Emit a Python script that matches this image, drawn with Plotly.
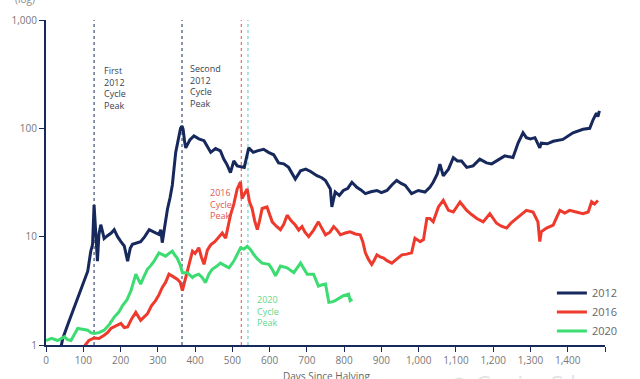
import plotly.graph_objects as go

# ---- data (days since halving, price multiple, log scale) ----
days_2012 = [40,45,60,75,90,103,112,120,125,129,133,138,142,147,152,156,165,175,183,192,201,210,219,226,232,243,254,265,277,290,303,308,312,318,326,333,339,348,355,361,365,368,372,375,386,397,410,424,433,442,455,468,477,486,495,504,513,522,532,544,556,567,584,597,611,624,638,651,669,683,697,710,727,740,750,763,767,776,787,798,810,821,834,845,857,872,888,900,915,928,941,953,964,981,999,1017,1030,1039,1050,1057,1066,1080,1093,1104,1115,1129,1146,1164,1182,1196,1209,1231,1253,1267,1280,1289,1300,1312,1325,1329,1345,1361,1387,1414,1441,1459,1468,1477,1481,1485]
vals_2012 = [0.95,1.15,1.6,2.2,2.9,3.9,4.8,7.3,8.5,19.7,11,5.95,10.5,12.9,11,9.6,10.2,10.8,11.6,10,9,8.2,5.95,7.8,8.5,8.8,9,10,11.6,11,10.5,11.6,8.8,12,18,23,30,60,80,100,105,98,75,66,78,85,80,77,68,60,65,62,52,46,39,50,45,44,43.6,66,60,62,64,60,57,48,47,43.6,34,40.5,42,40,36.5,35,33,27.6,18.8,25.8,24,26.7,28,31.8,28.6,27,25,26,26.7,25.5,26.7,30,33,31,29.7,25,26.7,25.8,28.6,31.8,38,46.8,36.5,42,53.7,50,50,43.6,45,52,48,47,50,55.7,53.7,73.5,91,82,80,82,66,73,72,76,79,91,98,100,120,138,128,145]

days_2016 = [95,103,115,129,142,156,165,174,188,201,210,219,230,241,254,263,272,283,294,303,312,321,330,340,352,360,366,375,383,393,400,410,417,424,433,442,453,464,473,482,488,495,504,513,522,526,533,540,546,553,560,567,573,580,593,600,607,618,629,638,647,658,669,678,687,695,705,718,731,740,750,762,772,781,790,803,816,830,843,850,857,865,874,880,888,897,906,915,928,941,955,968,981,990,1004,1013,1022,1030,1039,1053,1066,1080,1093,1111,1129,1142,1156,1173,1191,1209,1222,1236,1249,1262,1275,1289,1307,1320,1325,1329,1343,1361,1370,1379,1392,1405,1420,1441,1455,1464,1472,1481]
vals_2016 = [0.9,0.98,1.1,1.16,1.15,1.23,1.3,1.42,1.5,1.58,1.45,1.47,1.75,2.0,1.69,1.8,1.94,2.3,2.57,2.9,3.4,3.8,4.5,4.3,4.05,3.8,3.17,4.2,5.5,7.35,7.0,7.9,6.5,5.55,7.5,8.4,9,10,10.8,9.7,12,15.8,20,27.6,32,22.5,25,27.6,21,18.2,14,11.6,14,18.2,18.8,16,13.7,12.5,11.6,13,15.8,14,12.8,11.5,12.4,11,10,11.5,13.7,12,10.4,11,12.4,11.5,10.4,10.8,11.1,10.6,10.4,9,7.1,6.2,5.55,6.0,6.8,6.5,6.35,6.0,5.7,6.2,6.8,6.9,7.1,9.7,9,9.4,14.7,14.7,13.7,18.8,21.6,17.5,16.9,20.9,17.5,16,14.7,13.7,16.3,13.3,12.5,12,13.5,14.7,16,17.5,16.9,13.7,9,11.1,12,12.8,15,17.5,16.5,17.5,17,16.3,16.9,21,20,21.6]

days_2020 = [0,15,31,49,58,67,76,85,98,112,120,129,142,156,170,183,195,205,217,228,241,254,263,272,281,290,303,312,321,330,339,345,352,360,366,379,393,401,410,419,428,437,446,457,468,480,491,504,513,522,531,540,549,558,568,580,598,607,616,629,647,665,683,692,701,718,731,741,750,759,768,776,787,798,812,816,822]
vals_2020 = [1.1,1.15,1.1,1.19,1.12,1.1,1.25,1.42,1.4,1.37,1.3,1.28,1.3,1.37,1.55,1.81,2.0,2.3,2.6,3.17,4.5,3.65,4.3,5.0,5.4,5.95,7.07,6.8,6.6,7.0,7.35,6.8,6.35,5.5,4.65,4.65,4.2,4.4,4.5,4.2,3.77,4.5,5.0,5.3,5.7,5.4,5.15,5.95,6.8,7.9,7.7,8.15,7.6,6.8,6.2,5.7,5.55,5.0,4.35,5.35,5.15,4.65,5.7,5.1,4.5,4.5,3.5,3.6,3.65,2.48,2.5,2.57,2.7,2.85,2.95,2.57,2.65]

series_names = ["2012", "2016", "2020"]
series_colors = ["#17295c", "#ee3a2c", "#3ddc73"]

peak_days = [129, 365, 524, 542]
peak_colors = ["#17295c", "#17295c", "#e0504a", "#5cc9c4"]
peak_labels = ["First<br>2012<br>Cycle<br>Peak", "Second<br>2012<br>Cycle<br>Peak",
               "2016<br>Cycle<br>Peak", "2020<br>Cycle<br>Peak"]
label_days = [150, 380, 436, 560]
label_logy = [2.61, 2.63, 1.49, 0.5]
label_colors = ["#3a3f4f", "#3a3f4f", "#e0584f", "#5fd88c"]

x_tickvals = list(range(0, 1600, 100))
x_ticktext = [f"{v:,}" for v in x_tickvals[:-1]] + [""]
y_tickvals = [1, 10, 100, 1000]
y_ticktext = ["1", "10", "100", "1,000"]

FONT = "Open Sans, Noto Sans, sans-serif"

fig = go.Figure()
for d, v, n, c in zip([days_2012, days_2016, days_2020],
                      [vals_2012, vals_2016, vals_2020],
                      series_names, series_colors):
    fig.add_trace(go.Scatter(x=d, y=v, name=n, mode="lines",
                             line=dict(color=c, width=3)))

for d, c in zip(peak_days, peak_colors):
    fig.add_shape(type="line", xref="x", yref="paper", x0=d, x1=d, y0=0, y1=1,
                  line=dict(color=c, width=1, dash="dot"), layer="below")

for t, dx, ly, c in zip(peak_labels, label_days, label_logy, label_colors):
    fig.add_annotation(x=dx, y=ly, xref="x", yref="y", text=t, showarrow=False,
                       xanchor="left", yanchor="top", align="left",
                       font=dict(family=FONT, size=9, color=c))

fig.add_annotation(x=-0.059, y=1.092, xref="paper", yref="paper", text="(log)",
                   showarrow=False, xanchor="left", yanchor="top",
                   font=dict(family=FONT, size=10, color="#888"))
fig.add_annotation(x=0.502, y=-0.068, xref="paper", yref="paper",
                   text="Days Since Halving", showarrow=False,
                   xanchor="center", yanchor="top",
                   font=dict(family=FONT, size=10, color="#666"))
fig.add_annotation(x=0.718, y=-0.062, xref="paper", yref="paper",
                   text="⊘ C o i n S h a r e s", showarrow=False,
                   xanchor="left", yanchor="top",
                   font=dict(family=FONT, size=24, color="#e4e4e4"))

fig.update_layout(
    width=640, height=379,
    margin=dict(l=45, r=35, t=16, b=34),
    paper_bgcolor="white", plot_bgcolor="white",
    font=dict(family=FONT, size=10, color="#777"),
    showlegend=True,
    legend=dict(x=0.905, y=0.205, xanchor="left", yanchor="top",
                bgcolor="rgba(0,0,0,0)", font=dict(size=11, color="#666"),
                itemwidth=30, tracegroupgap=0),
    xaxis=dict(range=[0, 1500], tickvals=x_tickvals, ticktext=x_ticktext,
               showgrid=False, zeroline=False, showline=True,
               linecolor="#17295c", linewidth=2, ticks="outside",
               ticklen=5, tickcolor="#17295c", tickfont=dict(size=10, color="#777")),
    yaxis=dict(type="log", range=[0, 3], tickvals=y_tickvals, ticktext=y_ticktext,
               showgrid=False, zeroline=False, showline=True,
               linecolor="#17295c", linewidth=2, ticks="outside",
               ticklen=5, tickcolor="#17295c", tickfont=dict(size=10, color="#777")),
)

fig.write_html("out.html", config={"displayModeBar": False},
               post_script="document.body.style.margin='0';document.body.style.overflow='hidden';")
